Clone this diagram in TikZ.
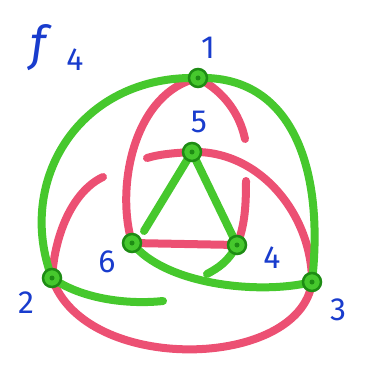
\documentclass[tikz,border=0pt]{standalone}
\usepackage{fontspec}
\setsansfont{Fira Sans}
\definecolor{gr}{RGB}{70,200,45}
\definecolor{dgr}{RGB}{30,140,20}
\definecolor{rd}{RGB}{236,80,115}
\definecolor{bl}{RGB}{25,60,205}
\tikzset{
  gedge/.style={draw=gr,line width=8pt,line cap=round},
  redge/.style={draw=rd,line width=8pt,line cap=round},
  vert/.style={circle,draw=dgr,fill=gr,line width=2.5pt,minimum size=18pt,inner sep=0pt},
  vdot/.style={circle,fill=dgr,minimum size=5pt,inner sep=0pt},
  lab/.style={text=bl,font=\sffamily\fontsize{32}{32}\selectfont,inner sep=0pt}
}
\begin{document}
\begin{tikzpicture}[x=1pt,y=-1pt]
\useasboundingbox (0,0) rectangle (373,382);
% coordinates of vertices
\coordinate (n1) at (198,78);
\coordinate (n5) at (192,152);
\coordinate (n6) at (132,243);
\coordinate (n4) at (237,245);
\coordinate (n2) at (52,278);
\coordinate (n3) at (312,282);
% free ends
\coordinate (r1end) at (245,139);
\coordinate (r4start) at (246,181);
\coordinate (r5end) at (147,158);
\coordinate (r2start) at (103,177);
\coordinate (g4end) at (207,274);
\coordinate (g2end) at (163,301);
\coordinate (g6end) at (144,231);
% red edges
\draw[redge] (n1) .. controls (135,92) and (115,185) .. (n6);
\draw[redge] (n1) .. controls (225,92) and (240,115) .. (r1end);
\draw[redge] (r4start) .. controls (246,205) and (245,225) .. (n4);
\draw[redge] (n5) .. controls (260,150) and (312,215) .. (n3);
\draw[redge] (n5) .. controls (175,153) and (160,154) .. (r5end);
\draw[redge] (r2start) .. controls (75,190) and (55,230) .. (n2);
\draw[redge] (n6) -- (n4);
\draw[redge] (n2) .. controls (85,375) and (300,370) .. (n3);
% green edges
\draw[gedge] (n2) .. controls (15,180) and (80,75) .. (n1);
\draw[gedge] (n1) .. controls (290,75) and (325,165) .. (n3);
\draw[gedge] (n6) .. controls (165,285) and (260,295) .. (n3);
\draw[gedge] (n5) -- (g6end);
\draw[gedge] (n5) -- (n4);
\draw[gedge] (n4) .. controls (228,262) and (218,268) .. (g4end);
\draw[gedge] (n2) .. controls (80,298) and (125,305) .. (g2end);
% vertices
\foreach \v in {n1,n2,n3,n4,n5,n6} {\node[vert] (v\v) at (\v) {}; \node[vdot] (d\v) at (\v) {};}
% labels
\node[lab] (l1) at (208,48) {1};
\node[lab] (l5) at (199,122) {5};
\node[lab] (l6) at (107,262) {6};
\node[lab] (l4) at (272,258) {4};
\node[lab] (l2) at (26,303) {2};
\node[lab] (l3) at (338,310) {3};
\node[text=bl,inner sep=0pt,font=\sffamily\itshape\fontsize{48}{48}\selectfont] (title) at (38,48) {f};
\node[lab] (sub4) at (75,60) {4};
\end{tikzpicture}
\end{document}
